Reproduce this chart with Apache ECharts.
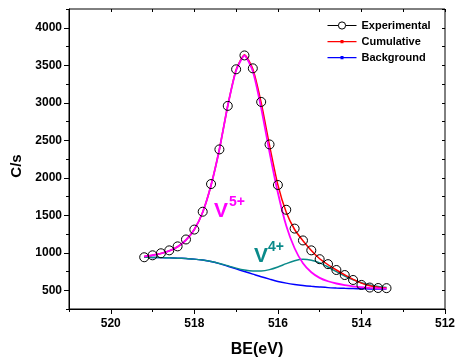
<!DOCTYPE html>
<html>
<head>
<meta charset="utf-8">
<script src="https://cdn.jsdelivr.net/npm/echarts@6/dist/echarts.min.js"></script>
<style>
html,body{margin:0;padding:0;background:#fff;}
#chart{width:461px;height:363px;}
</style>
</head>
<body>
<div id="chart"></div>
<script>
// Binding energy grid (eV)
var bindingEnergy = [519.2, 519.0, 518.8, 518.6, 518.4, 518.2, 518.0, 517.8, 517.6, 517.4,
                     517.2, 517.0, 516.8, 516.6, 516.4, 516.2, 516.0, 515.8, 515.6, 515.4,
                     515.2, 515.0, 514.8, 514.6, 514.4, 514.2, 514.0, 513.8, 513.6, 513.4];
// Experimental counts (C/s)
var experimental = [940, 966, 993, 1032, 1085, 1177, 1309, 1547, 1916, 2378,
                    2958, 3446, 3631, 3459, 3011, 2444, 1903, 1573, 1322, 1164,
                    1032, 914, 848, 770, 703, 637, 571, 536, 530, 528];
// Cumulative fit
var cumulative = [950, 968, 990, 1025, 1080, 1170, 1310, 1540, 1900, 2380,
                  2960, 3440, 3640, 3450, 3000, 2430, 1905, 1540, 1310, 1160,
                  1030, 920, 840, 770, 705, 645, 595, 560, 540, 530];
// V5+ component (on background)
var v5 = [950, 968, 990, 1025, 1080, 1170, 1310, 1540, 1900, 2380,
          2960, 3430, 3630, 3420, 2930, 2340, 1800, 1360, 1060, 860,
          740, 665, 620, 590, 568, 552, 540, 532, 526, 522];
// V4+ component (on background)
var v4 = [940, 938, 935, 932, 928, 922, 915, 902, 884, 858,
          826, 795, 770, 757, 758, 775, 810, 855, 893, 912,
          900, 865, 810, 748, 690, 640, 600, 570, 550, 538];
// Background
var background = [940, 938, 935, 932, 928, 922, 915, 902, 882, 855,
                  820, 785, 750, 715, 680, 648, 618, 595, 577, 563,
                  552, 543, 535, 530, 526, 523, 520, 518, 516, 515];

var xMajor = [512, 514, 516, 518, 520];
var yMajor = [500, 1000, 1500, 2000, 2500, 3000, 3500, 4000];

function pairs(ys){ return bindingEnergy.map(function(x,i){ return [x, ys[i]]; }); }

var FONT = "'Liberation Sans', Arial, sans-serif";
// legend icon: thin line with a small square dot in the middle
var lineDotIcon = 'path://M0,0L0.01,0L0.01,0.01Z M0,4L29,4L29,5.2L0,5.2Z M13,3L16,3L16,6.2L13,6.2Z M28.99,9L29,9L29,8.99Z';

var chart = echarts.init(document.getElementById('chart'), null, {renderer:'canvas'});

var option = {
  animation: false,
  backgroundColor: '#fff',
  grid: {left: 69, right: 16, top: 9, bottom: 50, show: true, borderColor: '#000', borderWidth: 1, backgroundColor: 'transparent'},
  legend: {
    orient: 'vertical', left: 327, top: 20, itemWidth: 29, itemHeight: 9, itemGap: 5, padding: 0,
    textStyle: {fontFamily: FONT, fontWeight: 'bold', fontSize: 11, color: '#000'},
    data: [
      {name: 'Experimental', lineStyle: {opacity: 1, color: '#000', width: 1}, itemStyle: {color: '#fff', borderColor: '#000', borderWidth: 1}},
      {name: 'Cumulative', icon: lineDotIcon},
      {name: 'Background', icon: lineDotIcon}
    ]
  },
  xAxis: [
    {type: 'value', min: 512, max: 521, interval: 1, inverse: true, position: 'bottom',
     name: 'BE(eV)', nameLocation: 'middle', nameGap: 33,
     nameTextStyle: {fontFamily: FONT, fontWeight: 'bold', fontSize: 16, color: '#000'},
     axisLine: {show: true, onZero: false, lineStyle: {color: '#000', width: 1}},
     axisTick: {show: true, length: 5, customValues: xMajor, lineStyle: {color: '#000'}},
     axisLabel: {customValues: xMajor, margin: 9, fontFamily: FONT, fontWeight: 'bold', fontSize: 12, color: '#000',
                 formatter: function(v){ return String(v); }},
     splitLine: {show: false}},
    {type: 'value', min: 512, max: 521, interval: 1, inverse: true, position: 'bottom', gridIndex: 0,
     axisLine: {show: false}, axisTick: {show: true, length: 3, lineStyle: {color: '#000'}},
     axisLabel: {show: false}, splitLine: {show: false}},
    {type: 'value', min: 512, max: 521, interval: 1, inverse: true, position: 'top',
     axisLine: {show: false}, axisTick: {show: true, inside: true, length: 3, lineStyle: {color: '#000'}},
     axisLabel: {show: false}, splitLine: {show: false}}
  ],
  yAxis: [
    {type: 'value', min: 250, max: 4250, interval: 250, position: 'left',
     name: 'C/s', nameLocation: 'middle', nameGap: 43, nameRotate: 90,
     nameTextStyle: {fontFamily: FONT, fontWeight: 'bold', fontSize: 15, color: '#000', padding: [0, 14, 0, 0]},
     axisLine: {show: true, onZero: false, lineStyle: {color: '#000', width: 1}},
     axisTick: {show: true, length: 5, customValues: yMajor, lineStyle: {color: '#000'}},
     axisLabel: {customValues: yMajor, margin: 7, fontFamily: FONT, fontWeight: 'bold', fontSize: 12, color: '#000',
                 formatter: function(v){ return String(v); }},
     splitLine: {show: false}},
    {type: 'value', min: 250, max: 4250, interval: 250, position: 'left',
     axisLine: {show: false}, axisTick: {show: true, length: 3, lineStyle: {color: '#000'}},
     axisLabel: {show: false}, splitLine: {show: false}},
    {type: 'value', min: 250, max: 4250, interval: 250, position: 'right',
     axisLine: {show: false}, axisTick: {show: true, inside: true, length: 3, lineStyle: {color: '#000'}},
     axisLabel: {show: false}, splitLine: {show: false}}
  ],
  series: [
    {name: 'Background', type: 'line', data: pairs(background), smooth: 0.3, symbol: 'circle', symbolSize: 3, showSymbol: false,
     lineStyle: {color: '#0000ff', width: 1.5}, itemStyle: {color: '#0000ff'}, z: 2},
    {name: 'V4+', type: 'line', data: pairs(v4), smooth: 0.3, showSymbol: false, symbol: 'none',
     lineStyle: {color: '#0a8a8a', width: 1.5}, itemStyle: {color: '#0a8a8a'}, z: 3},
    {name: 'Cumulative', type: 'line', data: pairs(cumulative), smooth: 0.2, symbol: 'circle', symbolSize: 3, showSymbol: false,
     lineStyle: {color: '#ff0000', width: 1.5}, itemStyle: {color: '#ff0000'}, z: 4},
    {name: 'V5+', type: 'line', data: pairs(v5), smooth: 0.2, showSymbol: false, symbol: 'none',
     lineStyle: {color: '#ff00ff', width: 1.8}, itemStyle: {color: '#ff00ff'}, z: 5},
    {name: 'Experimental', type: 'line', data: pairs(experimental), symbol: 'circle', symbolSize: 9, showSymbol: true,
     lineStyle: {opacity: 0}, itemStyle: {color: 'rgba(255,255,255,0)', borderColor: '#000', borderWidth: 1}, z: 6}
  ]
};
chart.setOption(option);

chart.setOption({
  graphic: [
    {type: 'text', left: 214, top: 201, style: {text: 'V', font: "bold 21px 'Liberation Sans', Arial, sans-serif", fill: '#ff00ff'}},
    {type: 'text', left: 229, top: 195, style: {text: '5+', font: "bold 14px 'Liberation Sans', Arial, sans-serif", fill: '#ff00ff'}},
    {type: 'text', left: 254, top: 246, style: {text: 'V', font: "bold 21px 'Liberation Sans', Arial, sans-serif", fill: '#0a8a8a'}},
    {type: 'text', left: 268, top: 240, style: {text: '4+', font: "bold 14px 'Liberation Sans', Arial, sans-serif", fill: '#0a8a8a'}}
  ]
});
</script>
</body>
</html>
